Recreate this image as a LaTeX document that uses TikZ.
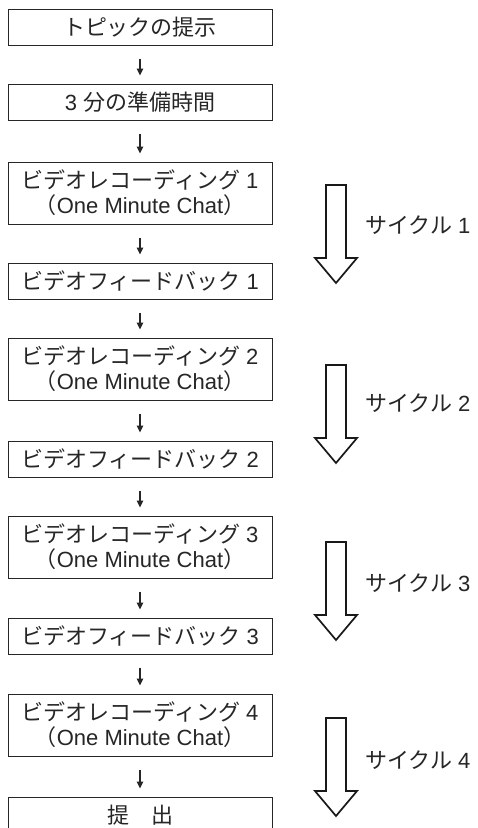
\documentclass[tikz,border=0pt]{standalone}
\usepackage{fontspec}
\setmainfont{Liberation Sans}
\newfontfamily\jp{Noto Sans CJK JP}
\usetikzlibrary{arrows.meta}
\begin{document}
\begin{tikzpicture}[x=1pt,y=-1pt,
  box/.style={draw=black!85, line width=1pt, minimum width=264pt, inner sep=0pt, align=center,
              text=black!85, font=\fontsize{22}{25}\selectfont},
  sbox/.style={box, minimum height=36pt},
  dbox/.style={box, minimum height=62pt},
  flow/.style={-{Triangle[length=7pt,width=6.5pt]}, draw=black!85, line width=1.2pt, shorten <=13pt, shorten >=8pt},
  bigarrow/.style={draw=black!90, line width=1.7pt, line join=miter, fill=white},
  cyc/.style={anchor=west, inner sep=0pt, text=black!85, font=\fontsize{22}{25}\selectfont}]
\useasboundingbox (0,0) rectangle (478,828);
\clip (0,0) rectangle (478,828);
\fill[white] (0,0) rectangle (478,828);

\node[sbox] (b1) at (140,27) {{\jp トピックの提示}};
\node[sbox] (b2) at (140,102) {3 {\jp 分の準備時間}};
\node[dbox] (b3) at (140,193) {{\jp ビデオレコーディング} 1\\{\jp （}One Minute Chat{\jp ）}};
\node[sbox] (b4) at (140,281) {{\jp ビデオフィードバック} 1};
\node[dbox] (b5) at (140,369) {{\jp ビデオレコーディング} 2\\{\jp （}One Minute Chat{\jp ）}};
\node[sbox] (b6) at (140,459) {{\jp ビデオフィードバック} 2};
\node[dbox] (b7) at (140,547) {{\jp ビデオレコーディング} 3\\{\jp （}One Minute Chat{\jp ）}};
\node[sbox] (b8) at (140,636) {{\jp ビデオフィードバック} 3};
\node[dbox] (b9) at (140,725) {{\jp ビデオレコーディング} 4\\{\jp （}One Minute Chat{\jp ）}};
\node[sbox] (b10) at (140,815) {{\jp 提　出}};

\foreach \a/\b in {b1/b2,b2/b3,b3/b4,b4/b5,b5/b6,b6/b7,b7/b8,b8/b9,b9/b10}
  \draw[flow] (\a.south) -- (\b.north);

\foreach \t/\n/\ly in {185/1/225, 365/2/403, 542/3/583, 718/4/760}{
  \path[bigarrow] (326,\t) -- (326,\t+73) -- (315,\t+73) -- (336,\t+98)
     -- (357,\t+73) -- (346,\t+73) -- (346,\t) -- cycle;
  \node[cyc] (c\n) at (365,\ly) {{\jp サイクル} \n};
}
\end{tikzpicture}
\end{document}
